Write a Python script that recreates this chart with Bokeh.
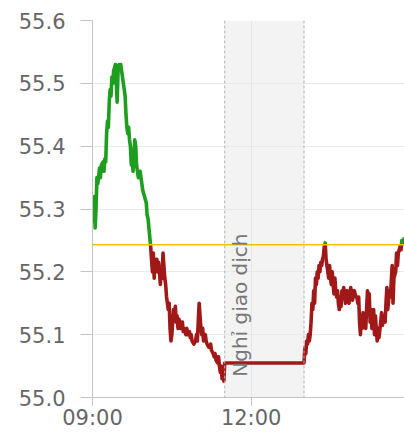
import math
from bokeh.plotting import figure
from bokeh.models import BoxAnnotation, Span, Label, FixedTicker, Range1d
from bokeh.embed import file_html
from bokeh.resources import INLINE

# ---------------- data ----------------
TIMES = [
    "09:00", "09:01", "09:02", "09:03", "09:04", "09:05", "09:06", "09:08", "09:09", "09:10",
    "09:12", "09:13", "09:14", "09:15", "09:16", "09:17", "09:18", "09:19", "09:20", "09:21",
    "09:22", "09:23", "09:24", "09:25", "09:26", "09:27", "09:28", "09:29", "09:30", "09:31",
    "09:32", "09:33", "09:34", "09:35", "09:36", "09:37", "09:38", "09:39", "09:40", "09:41",
    "09:42", "09:43", "09:44", "09:45", "09:46", "09:47", "09:48", "09:49", "09:50", "09:51",
    "09:52", "09:54", "09:57", "10:01", "10:02", "10:03", "10:04", "10:05", "10:06", "10:07",
    "10:08", "10:09", "10:10", "10:11", "10:12", "10:13", "10:14", "10:15", "10:16", "10:17",
    "10:18", "10:19", "10:20", "10:21", "10:22", "10:23", "10:24", "10:25", "10:26", "10:27",
    "10:28", "10:29", "10:30", "10:31", "10:32", "10:33", "10:34", "10:35", "10:36", "10:37",
    "10:38", "10:39", "10:40", "10:42", "10:43", "10:44", "10:46", "10:47", "10:48", "10:50",
    "10:51", "10:52", "10:53", "10:55", "10:57", "10:58", "10:59", "11:00", "11:01", "11:02",
    "11:03", "11:04", "11:05", "11:06", "11:08", "11:09", "11:10", "11:12", "11:14", "11:15",
    "11:17", "11:18", "11:19", "11:20", "11:22", "11:23", "11:24", "11:25", "11:26", "11:27",
    "11:28", "11:29", "11:30",
    "13:00", "13:01", "13:02", "13:03", "13:04", "13:05", "13:06", "13:07", "13:08", "13:09",
    "13:10", "13:11", "13:12", "13:13", "13:14", "13:15", "13:16", "13:17", "13:18", "13:19",
    "13:20", "13:21", "13:22", "13:23", "13:24", "13:25", "13:26", "13:27", "13:28", "13:29",
    "13:30", "13:31", "13:32", "13:33", "13:34", "13:35", "13:36", "13:37", "13:38", "13:39",
    "13:40", "13:41", "13:42", "13:43", "13:44", "13:45", "13:47", "13:49", "13:51", "13:53",
    "13:55", "13:57", "13:59", "14:00", "14:01", "14:02", "14:03", "14:04", "14:05", "14:06",
    "14:07", "14:08", "14:09", "14:10", "14:11", "14:12", "14:13", "14:14", "14:15", "14:16",
    "14:17", "14:19", "14:20", "14:21", "14:23", "14:24", "14:25", "14:27", "14:28", "14:29",
    "14:30", "14:32", "14:33", "14:34", "14:35", "14:37", "14:38", "14:40", "14:41", "14:42",
    "14:44", "14:45", "14:46", "14:47", "14:49", "14:50", "14:51", "14:53", "14:54",
]
PRICES = [
    55.31, 55.28, 55.32, 55.27, 55.30, 55.35, 55.34, 55.365, 55.35, 55.37,
    55.375, 55.36, 55.38, 55.375, 55.42, 55.44, 55.43, 55.47, 55.49, 55.48,
    55.51, 55.50, 55.52, 55.525, 55.53, 55.50, 55.47, 55.52, 55.53, 55.525,
    55.53, 55.52, 55.51, 55.50, 55.49, 55.48, 55.45, 55.43, 55.42, 55.43,
    55.41, 55.40, 55.37, 55.38, 55.36, 55.39, 55.41, 55.40, 55.37, 55.36,
    55.35, 55.36, 55.33, 55.31, 55.29, 55.285, 55.27, 55.255, 55.24, 55.22,
    55.20, 55.23, 55.19, 55.22, 55.21, 55.22, 55.20, 55.215, 55.20, 55.18,
    55.20, 55.19, 55.23, 55.21, 55.19, 55.18, 55.16, 55.15, 55.14, 55.15,
    55.11, 55.09, 55.10, 55.12, 55.14, 55.13, 55.145, 55.12, 55.13, 55.11,
    55.125, 55.12, 55.11, 55.12, 55.105, 55.11, 55.10, 55.11, 55.10, 55.105,
    55.095, 55.10, 55.09, 55.085, 55.09, 55.10, 55.09, 55.12, 55.15, 55.13,
    55.11, 55.10, 55.11, 55.09, 55.10, 55.09, 55.085, 55.08, 55.085, 55.075,
    55.07, 55.065, 55.07, 55.06, 55.055, 55.065, 55.05, 55.04, 55.05, 55.03,
    55.045, 55.026, 55.055,
    55.055, 55.08, 55.07, 55.09, 55.085, 55.10, 55.09, 55.10, 55.12, 55.15,
    55.14, 55.17, 55.15, 55.19, 55.18, 55.20, 55.19, 55.21, 55.20, 55.215,
    55.21, 55.22, 55.225, 55.24, 55.246, 55.22, 55.21, 55.20, 55.19, 55.21,
    55.19, 55.18, 55.20, 55.18, 55.165, 55.19, 55.17, 55.16, 55.17, 55.15,
    55.14, 55.16, 55.145, 55.17, 55.16, 55.175, 55.15, 55.17, 55.15, 55.175,
    55.155, 55.17, 55.16, 55.16, 55.15, 55.16, 55.12, 55.10, 55.13, 55.11,
    55.135, 55.115, 55.13, 55.11, 55.14, 55.17, 55.15, 55.165, 55.12, 55.14,
    55.11, 55.14, 55.10, 55.13, 55.09, 55.11, 55.095, 55.12, 55.135, 55.115,
    55.13, 55.12, 55.15, 55.175, 55.14, 55.17, 55.16, 55.21, 55.15, 55.19,
    55.20, 55.23, 55.21, 55.23, 55.24, 55.235, 55.25, 55.245, 55.255,
]
REF_PRICE = 55.243
BREAK_START = "11:30"
BREAK_END = "13:00"
BREAK_TEXT = "Nghỉ giao dịch"
X_START = "09:00"
X_END = "14:54"
X_TICK_LABELS = ["09:00", "12:00"]
Y_TICKS = [55.0, 55.1, 55.2, 55.3, 55.4, 55.5, 55.6]
Y_TICK_LABELS = ["55.0", "55.1", "55.2", "55.3", "55.4", "55.5", "55.6"]

UP_COLOR = "#1e9e1e"
DOWN_COLOR = "#a11818"
FONT = "DejaVu Sans"


def hours(s):
    h, m = s.split(":")
    return int(h) + int(m) / 60.0


# split the price path into runs above / below the reference price
xs_all = [hours(t) for t in TIMES]
seg_xs, seg_ys, seg_cs = [], [], []
cur_x, cur_y = [xs_all[0]], [PRICES[0]]
cur_up = PRICES[0] >= REF_PRICE
for i in range(1, len(PRICES)):
    x0, y0, x1, y1 = xs_all[i - 1], PRICES[i - 1], xs_all[i], PRICES[i]
    up1 = y1 >= REF_PRICE
    if up1 != cur_up:
        xc = x0 + (REF_PRICE - y0) / (y1 - y0) * (x1 - x0)
        cur_x.append(xc)
        cur_y.append(REF_PRICE)
        seg_xs.append(cur_x)
        seg_ys.append(cur_y)
        seg_cs.append(UP_COLOR if cur_up else DOWN_COLOR)
        cur_x, cur_y = [xc], [REF_PRICE]
        cur_up = up1
    cur_x.append(x1)
    cur_y.append(y1)
seg_xs.append(cur_x)
seg_ys.append(cur_y)
seg_cs.append(UP_COLOR if cur_up else DOWN_COLOR)

# ---------------- figure ----------------
p = figure(
    width=404, height=432,
    output_backend="svg", toolbar_location=None,
    x_range=Range1d(hours(X_START), hours(X_END)),
    y_range=Range1d(Y_TICKS[0], Y_TICKS[-1]),
    min_border_left=92, min_border_right=0,
    min_border_top=20, min_border_bottom=34,
)
p.outline_line_color = None
p.background_fill_color = "white"
p.border_fill_color = "white"

# break band
p.add_layout(BoxAnnotation(left=hours(BREAK_START), right=hours(BREAK_END),
                           fill_color="#f3f3f3", fill_alpha=1.0,
                           line_color=None, level="image"))
for t in (BREAK_START, BREAK_END):
    p.add_layout(Span(location=hours(t), dimension="height",
                      line_color="#b3b3b3", line_width=1, line_dash="3 2"))

# grids
p.ygrid.ticker = FixedTicker(ticks=Y_TICKS)
p.ygrid.grid_line_color = "#e9e9e9"
p.ygrid.grid_line_width = 1
p.xgrid.ticker = FixedTicker(ticks=[hours(t) for t in X_TICK_LABELS])
p.xgrid.grid_line_color = "#e6e6e6"

# axes
ya = p.yaxis[0]
ya.ticker = FixedTicker(ticks=Y_TICKS)
ya.major_label_overrides = {v: s for v, s in zip(Y_TICKS, Y_TICK_LABELS)}
ya.axis_line_color = "#c4c4c4"
ya.major_tick_line_color = "#c4c4c4"
ya.major_tick_out = 12
ya.major_tick_in = 0
ya.minor_tick_line_color = None
ya.major_label_standoff = 15
ya.major_label_text_font = FONT
ya.major_label_text_font_size = "21px"
ya.major_label_text_color = "#666666"

xt = [hours(t) for t in X_TICK_LABELS]
xa = p.xaxis[0]
xa.ticker = FixedTicker(ticks=xt)
xa.major_label_overrides = {v: s for v, s in zip(xt, X_TICK_LABELS)}
xa.axis_line_color = "#c4c4c4"
xa.major_tick_line_color = "#c4c4c4"
xa.major_tick_out = 8
xa.major_tick_in = 0
xa.minor_tick_line_color = None
xa.major_label_standoff = 0
xa.major_label_text_font = FONT
xa.major_label_text_font_size = "21px"
xa.major_label_text_color = "#666666"

# price line
p.multi_line(xs=seg_xs, ys=seg_ys, line_color=seg_cs, line_width=3.6,
             line_join="round")

# reference price
p.add_layout(Span(location=REF_PRICE, dimension="width",
                  line_color="#f2c200", line_width=1.6))

# break caption
p.add_layout(Label(x=11.78, y=55.033, text=BREAK_TEXT, angle=math.pi / 2,
                   text_align="left", text_baseline="middle",
                   text_font=FONT, text_font_size="20px",
                   text_color="#777777"))

open("out.html", "w").write(file_html(p, INLINE))
